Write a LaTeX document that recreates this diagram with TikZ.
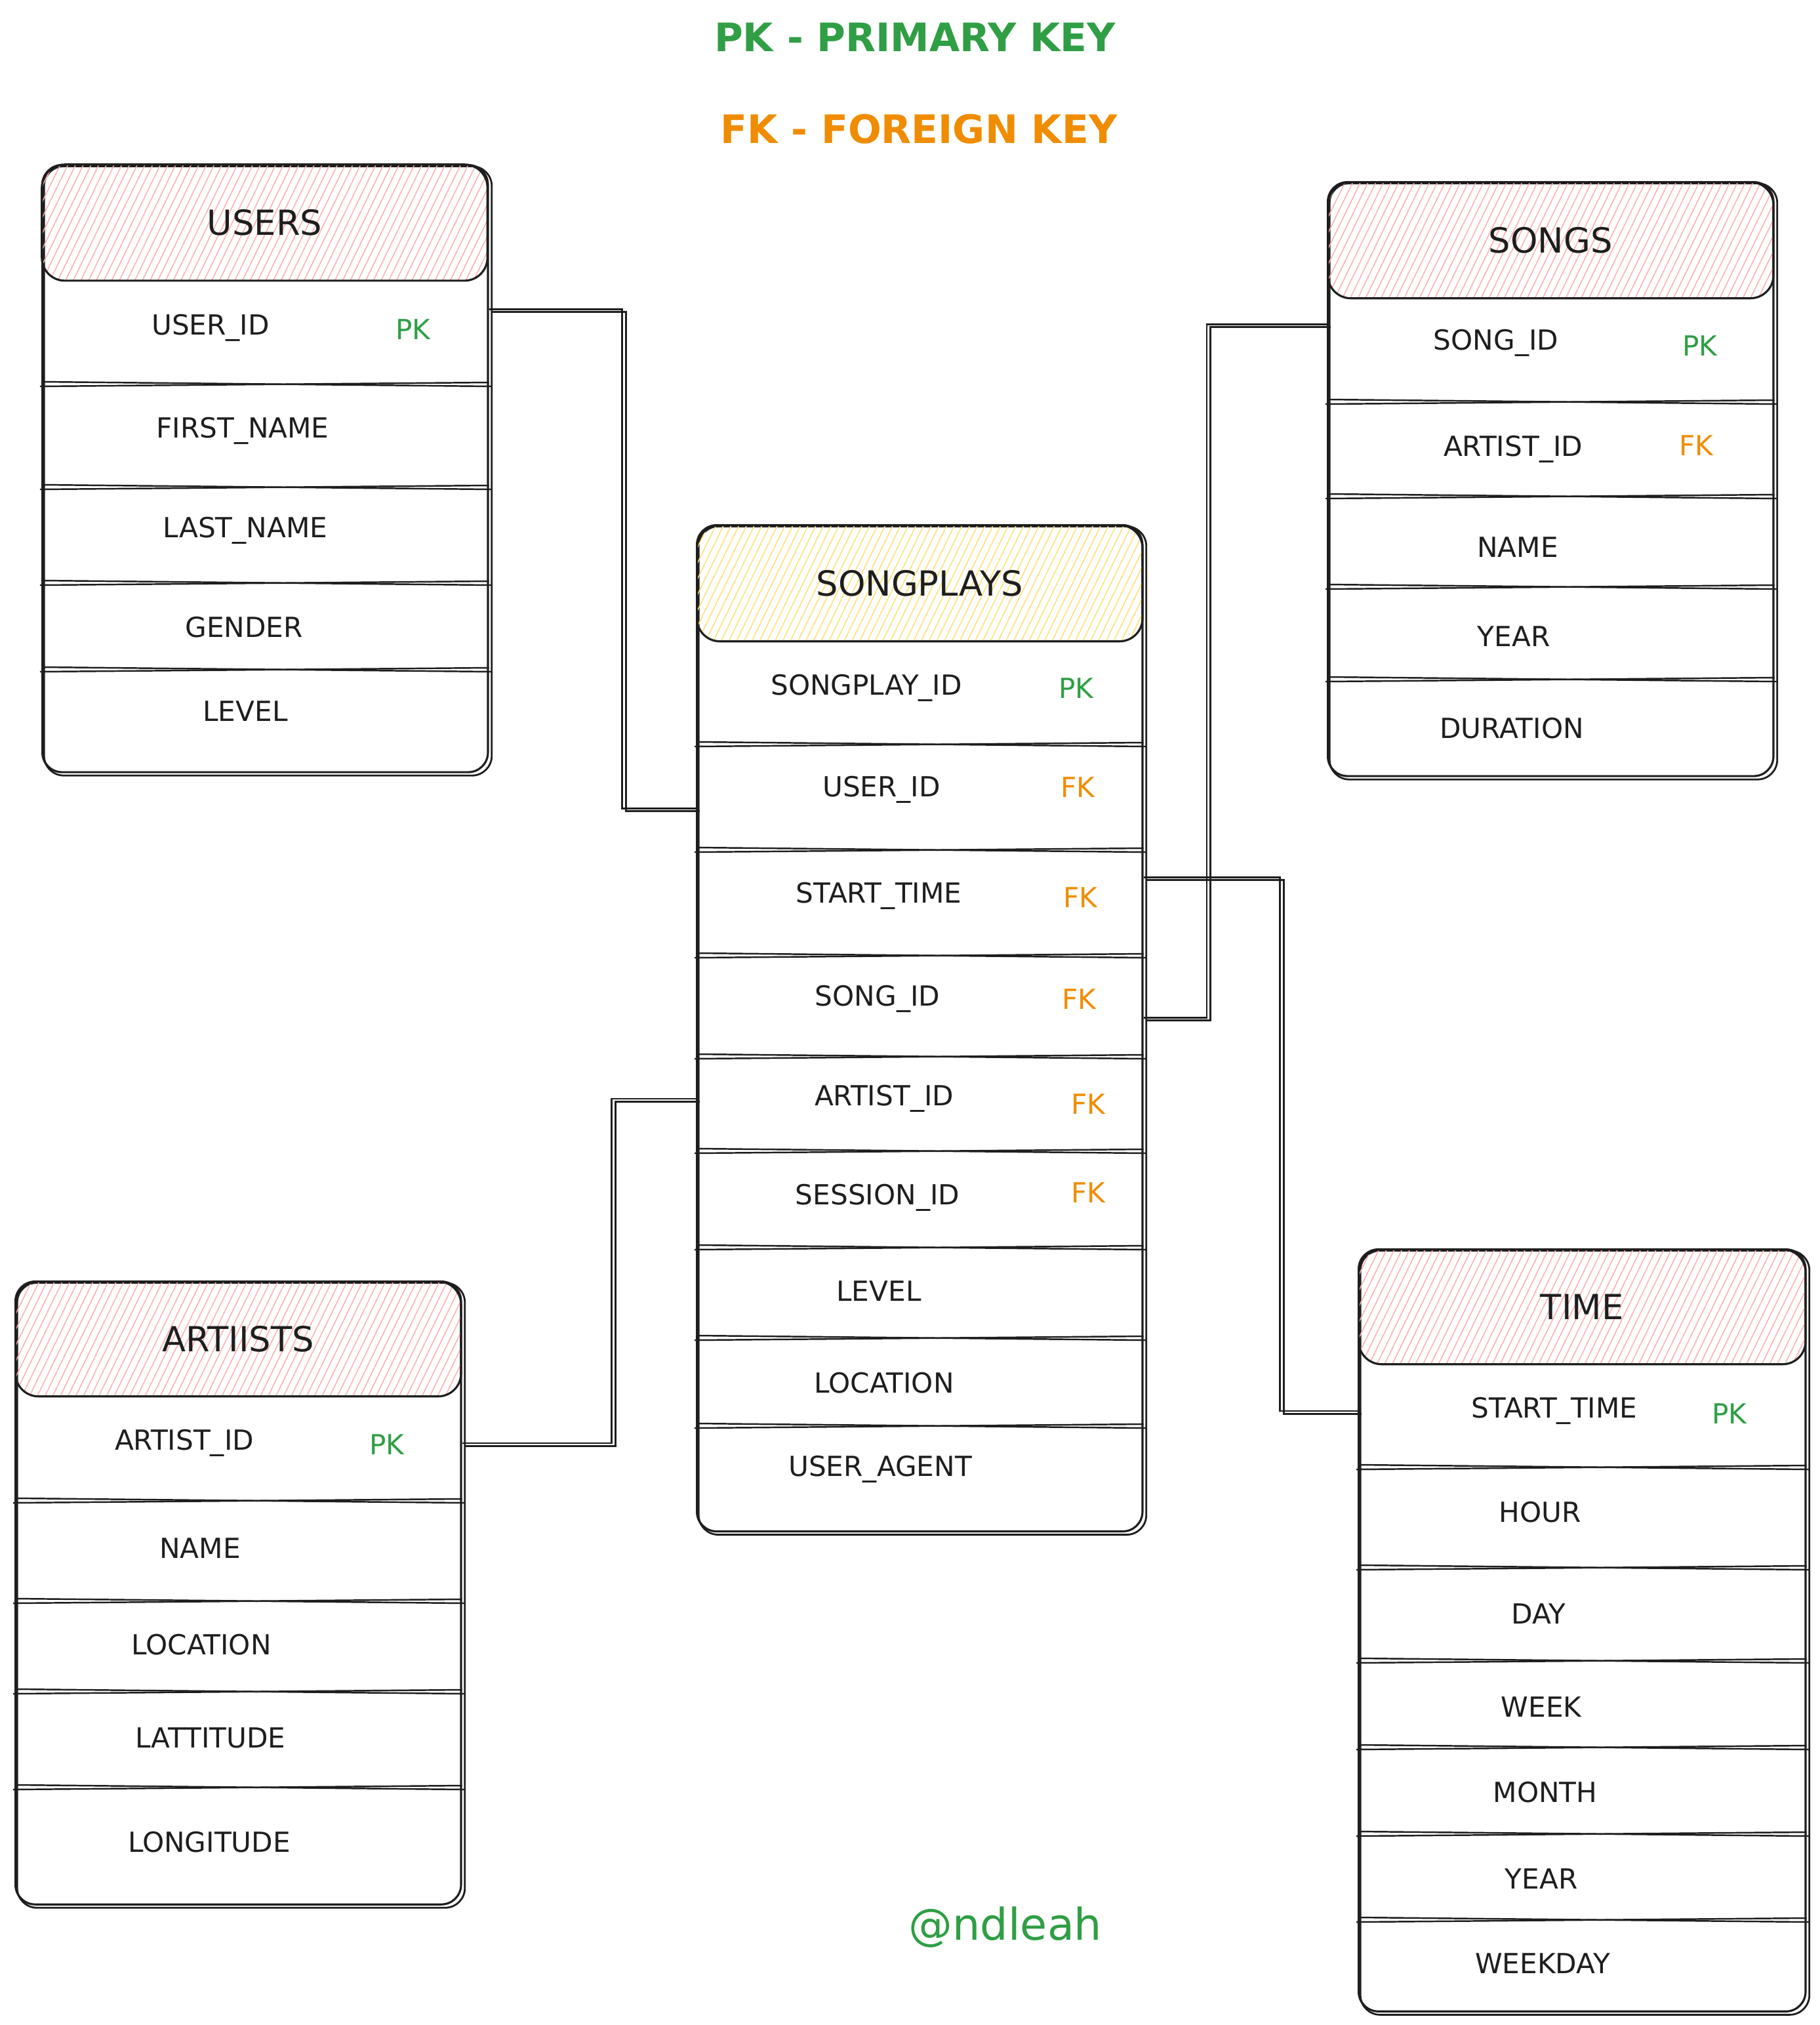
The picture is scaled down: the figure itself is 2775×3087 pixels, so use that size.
\documentclass[tikz,border=0pt]{standalone}
\usepackage{fontspec}
\setmainfont{DejaVu Sans}
\usetikzlibrary{patterns.meta,calc}
\definecolor{ink}{HTML}{1E1E1E}
\definecolor{pkg}{HTML}{2F9E44}
\definecolor{fko}{HTML}{F08C00}
\definecolor{hpink}{HTML}{FFB0B0}
\definecolor{hyel}{HTML}{FFD43B}
\newcommand\seprow[2]{%
 \draw[sepst] ($(#1.west |- 0,#2)+(2,-3)$) -- ($(#1.east |- 0,#2)+(4,4)$);
 \draw[sepst] ($(#1.west |- 0,#2)+(-2,4)$) -- ($(#1.east |- 0,#2)+(0,-2)$);}
\newcommand\tabledbl[1]{%
 \draw[ink, line width=0.8pt, rounded corners=0.3cm, transform canvas={shift={(1.2pt,-1pt)}}] (#1.north west) rectangle (#1.south east);}
\newcommand\connpaths{%
  \draw[conn] (users.east |- u1.north) -- ++(203,0) |- (sp.west |- sp2.south);
  \draw[conn] (songs.west |- so1.north) -- ++(-183,0) |- (sp.east |- sp4.south);
  \draw[conn] (sp.east |- sp3.north) -- ++(208,0) |- (tm.west |- t1);
  \draw[conn] (artists.east |- a1) -- ++(228,0) |- (sp.west |- sp5);}
\begin{document}
\begin{tikzpicture}[x=0.01cm,y=-0.01cm,
  tbl/.style={draw=ink, line width=0.9pt, rounded corners=0.3cm, anchor=north west, inner sep=0pt},
  hdr/.style={draw=ink, line width=0.9pt, rounded corners=0.35cm, anchor=north west, inner sep=0pt,
     font=\fontsize{15}{18}\selectfont, text=ink},
  hdrpink/.style={hdr, pattern={Lines[angle=64,distance=3pt,line width=0.45pt]}, pattern color=hpink},
  hdryel/.style={hdr, pattern={Lines[angle=64,distance=3pt,line width=0.45pt]}, pattern color=hyel!70},
  fld/.style={font=\fontsize{12}{14}\selectfont, text=ink, inner sep=2pt},
  pkey/.style={font=\fontsize{12}{14}\selectfont, text=pkg, inner sep=2pt},
  fkey/.style={font=\fontsize{12}{14}\selectfont, text=fko, inner sep=2pt},
  sepst/.style={draw=ink, line width=0.7pt},
  conn/.style={draw=ink, line width=0.8pt},
]
\useasboundingbox (0,0) rectangle (2775,3087);

% ---------- legend ----------
\node[font=\fontsize{17}{20}\selectfont\bfseries, text=pkg] (legpk) at (1395,57) {PK - PRIMARY KEY};
\node[font=\fontsize{17}{20}\selectfont\bfseries, text=fko] (legfk) at (1401,197) {FK - FOREIGN KEY};
\node[font=\fontsize{19}{22}\selectfont, text=pkg] (sign) at (1533,2938) {@ndleah};

% ---------- USERS ----------
\node[tbl, minimum width=6.79cm, minimum height=9.25cm] (users) at (63,250) {};
\tabledbl{users}
\node[hdrpink, minimum width=6.79cm, minimum height=1.77cm] (usersh) at (63,250) {USERS};
\seprow{users}{585}
\seprow{users}{742}
\seprow{users}{888}
\seprow{users}{1020}
\node[fld] (u1) at (321,500) {USER\_ID};
\node[pkey] (u1k) at (630,502) {PK};
\node[fld] (u2) at (370,657) {FIRST\_NAME};
\node[fld] (u3) at (374,809) {LAST\_NAME};
\node[fld] (u4) at (372,956) {GENDER};
\node[fld] (u5) at (374,1084) {LEVEL};

% ---------- SONGS ----------
\node[tbl, minimum width=6.79cm, minimum height=9.05cm] (songs) at (2023,276) {};
\tabledbl{songs}
\node[hdrpink, minimum width=6.79cm, minimum height=1.77cm] (songsh) at (2023,276) {SONGS};
\seprow{songs}{612}
\seprow{songs}{756}
\seprow{songs}{894}
\seprow{songs}{1035}
\node[fld] (so1) at (2281,523) {SONG\_ID};
\node[pkey] (so1k) at (2592,527) {PK};
\node[fld] (so2) at (2307,685) {ARTIST\_ID};
\node[fkey] (so2k) at (2586,679) {FK};
\node[fld] (so3) at (2314,834) {NAME};
\node[fld] (so4) at (2308,970) {YEAR};
\node[fld] (so5) at (2305,1110) {DURATION};

% ---------- SONGPLAYS ----------
\node[tbl, minimum width=6.79cm, minimum height=15.33cm] (sp) at (1061,799) {};
\tabledbl{sp}
\node[hdryel, minimum width=6.79cm, minimum height=1.77cm] (sph) at (1061,799) {SONGPLAYS};
\seprow{sp}{1134}
\seprow{sp}{1295}
\seprow{sp}{1456}
\seprow{sp}{1610}
\seprow{sp}{1754}
\seprow{sp}{1901}
\seprow{sp}{2039}
\seprow{sp}{2173}
\node[fld] (sp1) at (1321,1049) {SONGPLAY\_ID};
\node[pkey] (sp1k) at (1641,1049) {PK};
\node[fld] (sp2) at (1344,1204) {USER\_ID};
\node[fkey] (sp2k) at (1643,1200) {FK};
\node[fld] (sp3) at (1340,1366) {START\_TIME};
\node[fkey] (sp3k) at (1647,1368) {FK};
\node[fld] (sp4) at (1338,1523) {SONG\_ID};
\node[fkey] (sp4k) at (1645,1523) {FK};
\node[fld] (sp5) at (1348,1675) {ARTIST\_ID};
\node[fkey] (sp5k) at (1659,1683) {FK};
\node[fld] (sp6) at (1338,1826) {SESSION\_ID};
\node[fkey] (sp6k) at (1659,1818) {FK};
\node[fld] (sp7) at (1340,1968) {LEVEL};
\node[fld] (sp8) at (1348,2108) {LOCATION};
\node[fld] (sp9) at (1342,2240) {USER\_AGENT};

% ---------- ARTISTS ----------
\node[tbl, minimum width=6.79cm, minimum height=9.49cm] (artists) at (22,1952) {};
\tabledbl{artists}
\node[hdrpink, minimum width=6.79cm, minimum height=1.75cm] (artistsh) at (22,1952) {ARTIISTS};
\seprow{artists}{2287}
\seprow{artists}{2440}
\seprow{artists}{2578}
\seprow{artists}{2724}
\node[fld] (a1) at (281,2200) {ARTIST\_ID};
\node[pkey] (a1k) at (590,2202) {PK};
\node[fld] (a2) at (305,2360) {NAME};
\node[fld] (a3) at (307,2507) {LOCATION};
\node[fld] (a4) at (321,2649) {LATTITUDE};
\node[fld] (a5) at (319,2808) {LONGITUDE};

% ---------- TIME ----------
\node[tbl, minimum width=6.81cm, minimum height=11.61cm] (tm) at (2070,1903) {};
\tabledbl{tm}
\node[hdrpink, minimum width=6.81cm, minimum height=1.75cm] (tmh) at (2070,1903) {TIME};
\seprow{tm}{2236}
\seprow{tm}{2389}
\seprow{tm}{2531}
\seprow{tm}{2663}
\seprow{tm}{2795}
\seprow{tm}{2926}
\node[fld] (t1) at (2370,2151) {START\_TIME};
\node[pkey] (t1k) at (2637,2155) {PK};
\node[fld] (t2) at (2348,2305) {HOUR};
\node[fld] (t3) at (2346,2460) {DAY};
\node[fld] (t4) at (2350,2602) {WEEK};
\node[fld] (t5) at (2356,2732) {MONTH};
\node[fld] (t6) at (2350,2864) {YEAR};
\node[fld] (t7) at (2352,2993) {WEEKDAY};

% ---------- connectors (sketchy double strokes) ----------
\connpaths
\begin{scope}[transform canvas={shift={(1.6pt,-1.2pt)}}]
\connpaths
\end{scope}
\end{tikzpicture}
\end{document}
